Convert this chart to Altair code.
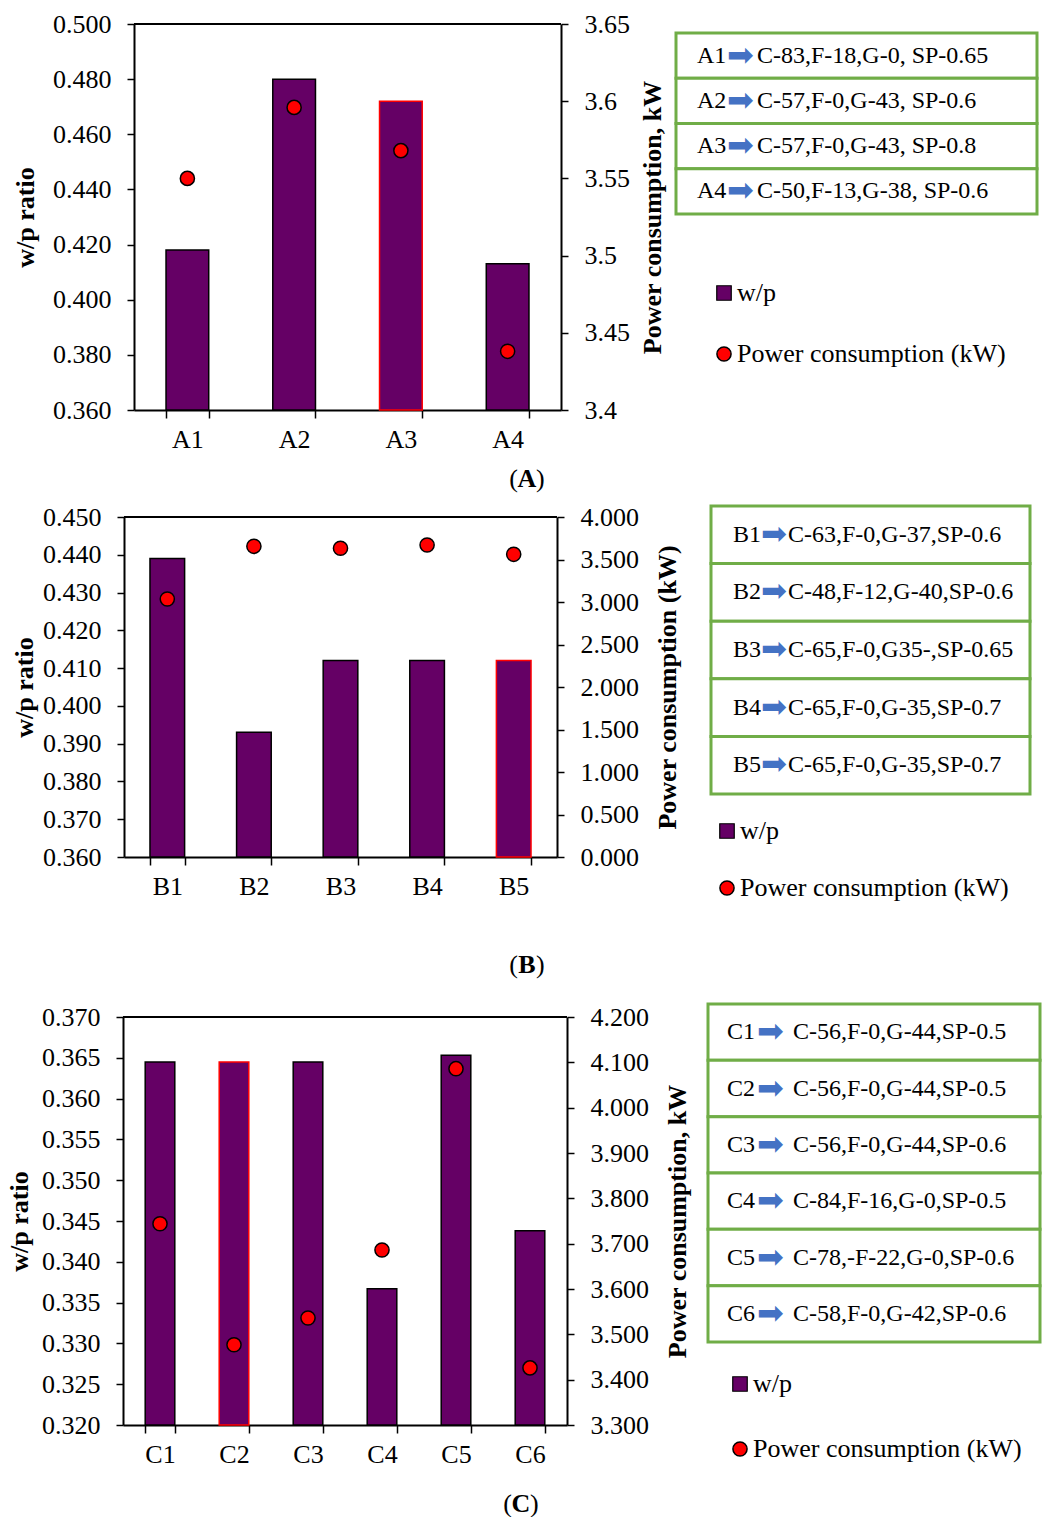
import altair as alt
import pandas as pd

PURPLE = "#650065"
RED = "#FF0000"
GREEN = "#70AD47"
ARROW_BLUE = "#4472C4"
SERIF = "Liberation Serif"

# ---------------- data ----------------
A_cats = ["A1", "A2", "A3", "A4"]
A_wp = [0.418, 0.480, 0.472, 0.413]
A_pc = [3.550, 3.596, 3.568, 3.438]
A_hl = "A3"
A_left_ticks = [0.36, 0.38, 0.40, 0.42, 0.44, 0.46, 0.48, 0.50]
A_right_ticks = [3.40, 3.45, 3.50, 3.55, 3.60, 3.65]
A_right_title = "Power consumption, kW"
A_desc = ["C-83,F-18,G-0, SP-0.65", "C-57,F-0,G-43, SP-0.6",
          "C-57,F-0,G-43, SP-0.8", "C-50,F-13,G-38, SP-0.6"]

B_cats = ["B1", "B2", "B3", "B4", "B5"]
B_wp = [0.439, 0.393, 0.412, 0.412, 0.412]
B_pc = [3.035, 3.655, 3.632, 3.671, 3.561]
B_hl = "B5"
B_left_ticks = [0.36, 0.37, 0.38, 0.39, 0.40, 0.41, 0.42, 0.43, 0.44, 0.45]
B_right_ticks = [0.0, 0.5, 1.0, 1.5, 2.0, 2.5, 3.0, 3.5, 4.0]
B_right_title = "Power consumption (kW)"
B_desc = ["C-63,F-0,G-37,SP-0.6", "C-48,F-12,G-40,SP-0.6",
          "C-65,F-0,G35-,SP-0.65", "C-65,F-0,G-35,SP-0.7",
          "C-65,F-0,G-35,SP-0.7"]

C_cats = ["C1", "C2", "C3", "C4", "C5", "C6"]
C_wp = [0.3645, 0.3645, 0.3645, 0.3367, 0.3653, 0.3438]
C_pc = [3.744, 3.477, 3.536, 3.686, 4.086, 3.426]
C_hl = "C2"
C_left_ticks = [0.320, 0.325, 0.330, 0.335, 0.340, 0.345, 0.350, 0.355,
                0.360, 0.365, 0.370]
C_right_ticks = [3.3, 3.4, 3.5, 3.6, 3.7, 3.8, 3.9, 4.0, 4.1, 4.2]
C_right_title = "Power consumption, kW"
C_desc = ["C-56,F-0,G-44,SP-0.5", "C-56,F-0,G-44,SP-0.5",
          "C-56,F-0,G-44,SP-0.6", "C-84,F-16,G-0,SP-0.5",
          "C-78,-F-22,G-0,SP-0.6", "C-58,F-0,G-42,SP-0.6"]

BAR_SERIES = "w/p"
PT_SERIES = "Power consumption (kW)"


def make_main(cats, wp, pc, hl, lticks, lfmt, rticks, rfmt, rtitle,
              shift, pwidth, height, leg_x, leg_y1, leg_y2, cap_letter,
              cap_x, cap_y, left_tpad, right_tpad, anchor=None):
    W = shift + pwidth
    df = pd.DataFrame({"cat": cats, "wp": wp, "pc": pc})
    base = alt.Chart(df)
    lo, hi = lticks[0], lticks[-1]
    xenc = alt.X("cat:N", sort=cats,
                 scale=alt.Scale(paddingInner=0.6, paddingOuter=0.3,
                                 range=[shift, W]),
                 axis=alt.Axis(title=None, tickBand="extent", labelAngle=0,
                               labelFontSize=26, labelPadding=8, tickSize=8,
                               tickWidth=1.5, domainWidth=2))
    bars = base.transform_calculate(series="'" + BAR_SERIES + "'").mark_bar(
        strokeWidth=1.5).encode(
        x=xenc,
        y=alt.Y("wp:Q",
                scale=alt.Scale(domain=[lo, hi], nice=False, zero=False),
                axis=alt.Axis(values=lticks, format=lfmt, title="w/p ratio",
                              titleFontSize=26, titleFontWeight="bold",
                              labelFontSize=26, tickSize=7, tickWidth=1.5,
                              domainWidth=2, labelPadding=16,
                              titlePadding=left_tpad, offset=-shift)),
        y2=alt.datum(lo),
        fill=alt.Fill("series:N",
                      scale=alt.Scale(domain=[BAR_SERIES], range=[PURPLE]),
                      legend=alt.Legend(orient="none", legendX=leg_x,
                                        legendY=leg_y1, title=None,
                                        symbolType="square", symbolSize=210,
                                        symbolStrokeColor="black",
                                        symbolStrokeWidth=1.2,
                                        symbolFillColor=PURPLE)),
        stroke=alt.condition(alt.datum.cat == hl, alt.value(RED),
                             alt.value("black")),
    )
    pts = base.transform_calculate(series2="'" + PT_SERIES + "'").mark_circle(
        size=200, stroke="black", strokeWidth=1.5, opacity=1).encode(
        x=alt.X("cat:N", sort=cats),
        y=alt.Y("pc:Q",
                scale=alt.Scale(domain=[rticks[0], rticks[-1]], nice=False,
                                zero=False),
                axis=alt.Axis(orient="right", values=rticks, format=rfmt,
                              title=rtitle, titleFontSize=26,
                              titleFontWeight="bold", titleAngle=270,
                              titleBaseline="top", labelFontSize=26,
                              tickSize=7, tickWidth=1.5, domainWidth=2,
                              labelPadding=16, titlePadding=right_tpad)),
        fill=alt.Fill("series2:N",
                      scale=alt.Scale(domain=[PT_SERIES], range=[RED]),
                      legend=alt.Legend(orient="none", legendX=leg_x,
                                        legendY=leg_y2, title=None,
                                        symbolType="circle", symbolSize=200,
                                        symbolStrokeColor="black",
                                        symbolStrokeWidth=1.5,
                                        symbolFillColor=RED)),
    )
    cap_df = pd.DataFrame({"t": [cap_letter]})
    cap_base = alt.Chart(cap_df)
    frame_top = cap_base.mark_rule(color="black", strokeWidth=2).encode(
        x=alt.value(shift), x2=alt.value(W), y=alt.value(0))
    cap_mid = cap_base.mark_text(font=SERIF, fontSize=26, fontWeight="bold",
                                 color="black", baseline="middle",
                                 align="center").encode(
        x=alt.value(cap_x), y=alt.value(cap_y), text="t:N")
    cap_l = cap_base.mark_text(font=SERIF, fontSize=26, color="black",
                               baseline="middle", align="right",
                               text="(").encode(
        x=alt.value(cap_x - 9), y=alt.value(cap_y))
    cap_r = cap_base.mark_text(font=SERIF, fontSize=26, color="black",
                               baseline="middle", align="left",
                               text=")").encode(
        x=alt.value(cap_x + 9), y=alt.value(cap_y))
    layers = [bars, pts, frame_top, cap_l, cap_mid, cap_r]
    if anchor is not None:
        anc = cap_base.mark_rule(opacity=0).encode(
            x=alt.value(anchor[0]), y=alt.value(anchor[1]),
            y2=alt.value(0))
        layers.append(anc)
    return alt.layer(*layers).resolve_scale(
        y="independent", fill="independent").properties(
        width=W, height=height,
        view=alt.ViewBackground(stroke="transparent", strokeWidth=0))


def make_side(rows, desc, width, height, y0, y1, box_l, box_r, lab_x,
              arr_x, desc_x, arr_size):
    df = pd.DataFrame({"row": rows, "desc": desc})
    base = alt.Chart(df)
    yenc = alt.Y("row:N", sort=rows, axis=None,
                 scale=alt.Scale(type="band", range=[y0, y1],
                                 paddingInner=0, paddingOuter=0))
    rect = base.mark_rect(fill="white", stroke=GREEN, strokeWidth=3).encode(
        x=alt.value(box_l), x2=alt.value(box_r), y=yenc)
    lab = base.mark_text(font=SERIF, fontSize=24, color="black",
                         align="left", baseline="middle").encode(
        x=alt.value(lab_x), y=yenc, text="row:N")
    arr = base.mark_text(font="DejaVu Sans", fontSize=arr_size,
                         color=ARROW_BLUE, align="left", baseline="middle",
                         text="\u27a1").encode(x=alt.value(arr_x), y=yenc)
    des = base.mark_text(font=SERIF, fontSize=24, color="black",
                         align="left", baseline="middle").encode(
        x=alt.value(desc_x), y=yenc, text="desc:N")
    return alt.layer(rect, lab, arr, des).properties(
        width=width, height=height,
        view=alt.ViewBackground(stroke="transparent", strokeWidth=0))


mainA = make_main(A_cats, A_wp, A_pc, A_hl, A_left_ticks, ".3f",
                  A_right_ticks, "~g", A_right_title, 11, 427, 386,
                  588, 256, 317, "A", 404, 455, 14, 10, anchor=(-123, -24))
sideA = make_side(A_cats, A_desc, 475, 386, 9, 190, 109, 470, 130, 160,
                  190, 32)

mainB = make_main(B_cats, B_wp, B_pc, B_hl, B_left_ticks, ".3f",
                  B_right_ticks, ".3f", B_right_title, 1, 433, 340,
                  591, 301, 358, "B", 404, 448, 5, 16)
sideB = make_side(B_cats, B_desc, 475, 393, -11, 277, 144, 463, 166, 194,
                  221, 31)

mainC = make_main(C_cats, C_wp, C_pc, C_hl, C_left_ticks, ".3f",
                  C_right_ticks, ".3f", C_right_title, 0, 444, 408,
                  604, 354, 419, "C", 398, 487, 9, 16)
sideC = make_side(C_cats, C_desc, 475, 408, -13, 325, 141, 473, 160, 190,
                  226, 32)

chart = alt.concat(
    mainA, sideA,
    mainB, sideB,
    mainC, sideC,
    columns=2,
    spacing=alt.RowColnumber(row=107, column=0),
    align="each",
    bounds="flush",
).properties(
    padding=0, background="white"
).configure_view(
    stroke="transparent"
).configure_axis(
    labelFont=SERIF, titleFont=SERIF, labelColor="black", titleColor="black",
    tickColor="black", domainColor="black", grid=False
).configure_legend(
    labelFont=SERIF, labelFontSize=26, labelColor="black", padding=0,
    labelOffset=0, symbolOffset=0, labelLimit=500
)

chart.save("out.html", embed_options={"renderer": "svg", "actions": False})
